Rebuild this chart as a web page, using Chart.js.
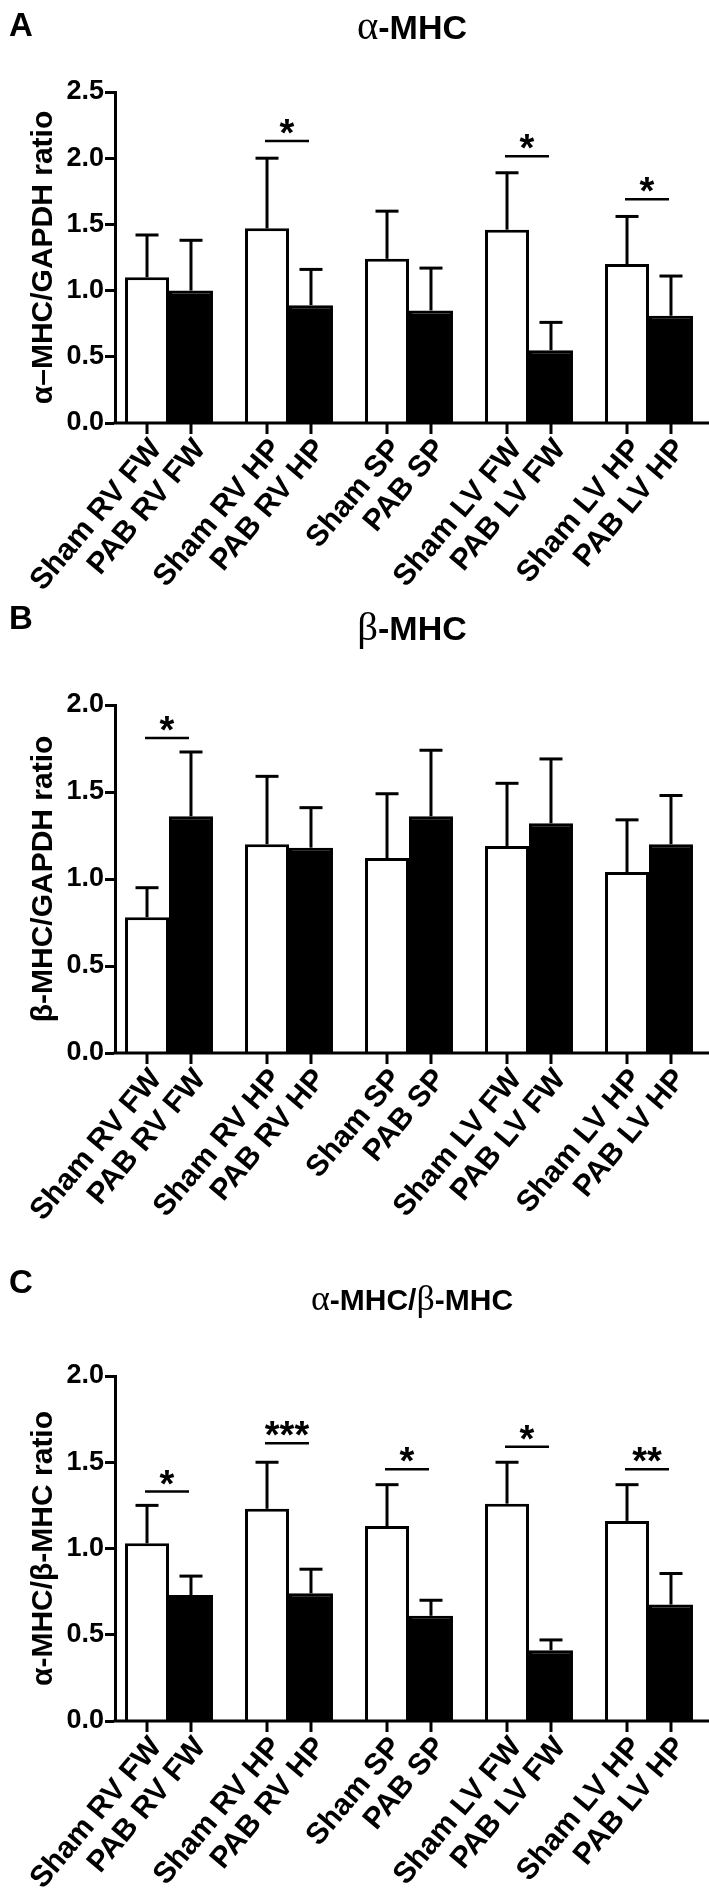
<!DOCTYPE html>
<html><head><meta charset="utf-8">
<script src="https://cdn.jsdelivr.net/npm/chart.js@4.4.1/dist/chart.umd.min.js"></script>
<style>
html,body{margin:0;padding:0;background:#fff;}
#page{position:relative;width:709px;height:1894px;overflow:hidden;font-family:"Liberation Sans",Arial,sans-serif;background:#fff;}
.panel{position:absolute;left:0;width:709px;}
.panel canvas{position:absolute;left:0;top:0;}
.letter{position:absolute;left:9px;font-weight:bold;font-size:33px;line-height:33px;color:#000;}
.title{position:absolute;left:115px;width:594px;text-align:center;font-weight:bold;font-size:34px;line-height:34px;color:#000;white-space:nowrap;}
.gk{font-family:"Liberation Serif","Times New Roman",serif;font-weight:normal;font-size:1.2em;line-height:0;}
</style></head><body>
<div id="page">
  <div class="panel" style="top:0;height:600px;">
    <canvas id="cA" width="709" height="600"></canvas>
    <div class="letter" style="top:8px">A</div>
    <div class="title" style="top:10px"><span class="gk">α</span>-MHC</div>
  </div>
  <div class="panel" style="top:600px;height:650px;">
    <canvas id="cB" width="709" height="650"></canvas>
    <div class="letter" style="top:1px">B</div>
    <div class="title" style="top:11px"><span class="gk">β</span>-MHC</div>
  </div>
  <div class="panel" style="top:1250px;height:644px;">
    <canvas id="cC" width="709" height="644"></canvas>
    <div class="letter" style="top:15px">C</div>
    <div class="title" style="top:35px;font-size:30px;line-height:30px;"><span class="gk">α</span>-MHC/<span class="gk">β</span>-MHC</div>
  </div>
</div>
<script>
// ---- categories ----
const groups = ["RV FW", "RV HP", "SP", "LV FW", "LV HP"];
const shamLabels = ["Sham RV FW", "Sham RV HP", "Sham SP", "Sham LV FW", "Sham LV HP"];
const pabLabels = ["PAB RV FW", "PAB RV HP", "PAB SP", "PAB LV FW", "PAB LV HP"];

// ---- tick labels ----
const yTicksA = [0.0, 0.5, 1.0, 1.5, 2.0, 2.5];
const yTicksB = [0.0, 0.5, 1.0, 1.5, 2.0];
const yTicksC = [0.0, 0.5, 1.0, 1.5, 2.0];

// ---- Panel A: alpha-MHC / GAPDH ----
const aShamMean = [1.10, 1.47, 1.24, 1.46, 1.20];
const aShamSd   = [0.32, 0.53, 0.36, 0.43, 0.36];
const aPabMean  = [1.00, 0.89, 0.85, 0.55, 0.81];
const aPabSd    = [0.38, 0.27, 0.32, 0.21, 0.30];
const aSigText  = ["", "*", "", "*", "*"];
const aSigLevel = [null, 2.13, null, 2.015, 1.69];

// ---- Panel B: beta-MHC / GAPDH ----
const bShamMean = [0.78, 1.20, 1.12, 1.19, 1.04];
const bShamSd   = [0.17, 0.39, 0.37, 0.36, 0.30];
const bPabMean  = [1.36, 1.18, 1.36, 1.32, 1.20];
const bPabSd    = [0.37, 0.23, 0.38, 0.37, 0.28];
const bSigText  = ["*", "", "", "", ""];
const bSigLevel = [1.81, null, null, null, null];

// ---- Panel C: alpha-MHC / beta-MHC ----
const cShamMean = [1.03, 1.23, 1.13, 1.26, 1.16];
const cShamSd   = [0.22, 0.27, 0.24, 0.24, 0.21];
const cPabMean  = [0.73, 0.74, 0.61, 0.41, 0.675];
const cPabSd    = [0.11, 0.14, 0.09, 0.06, 0.18];
const cSigText  = ["*", "***", "*", "*", "**"];
const cSigLevel = [1.33, 1.61, 1.46, 1.59, 1.46];

const FONT = '"Liberation Sans", Arial, sans-serif';
const LABEL_ANGLE = -50 * Math.PI / 180;
const LABEL_SIZE = 30;

function makeDecor(info) {
  return {
    id: 'decor',
    afterDatasetsDraw(chart) {
      const ctx = chart.ctx, ys = chart.scales.y, area = chart.chartArea;
      const metas = [chart.getDatasetMeta(0), chart.getDatasetMeta(1)];
      ctx.save();
      ctx.strokeStyle = '#000';
      ctx.fillStyle = '#000';
      ctx.lineCap = 'butt';
      // error bars (upper SD)
      metas.forEach((meta, di) => {
        const means = info.means[di], sds = info.sds[di];
        meta.data.forEach((el, j) => {
          const top = ys.getPixelForValue(means[j] + sds[j]);
          ctx.lineWidth = 3;
          ctx.beginPath();
          ctx.moveTo(el.x, el.y);
          ctx.lineTo(el.x, top);
          ctx.stroke();
          ctx.beginPath();
          ctx.moveTo(el.x - 11.5, top);
          ctx.lineTo(el.x + 11.5, top);
          ctx.stroke();
        });
      });
      // x axis line
      const y0 = ys.getPixelForValue(0);
      ctx.lineWidth = 3;
      ctx.beginPath();
      ctx.moveTo(area.left - 1.5, y0);
      ctx.lineTo(chart.width, y0);
      ctx.stroke();
      // ticks and rotated labels under each bar
      const half = LABEL_SIZE * 0.36;
      const ax = half * Math.sin(-LABEL_ANGLE), ay = half * Math.cos(-LABEL_ANGLE);
      metas.forEach((meta, di) => {
        const labels = info.labels[di];
        meta.data.forEach((el, j) => {
          ctx.lineWidth = 3;
          ctx.beginPath();
          ctx.moveTo(el.x, y0);
          ctx.lineTo(el.x, y0 + 11);
          ctx.stroke();
          ctx.save();
          ctx.translate(el.x + 1 + ax, y0 + 14 + ay);
          ctx.rotate(LABEL_ANGLE);
          ctx.textAlign = 'right';
          ctx.textBaseline = 'middle';
          ctx.font = 'bold ' + LABEL_SIZE + 'px ' + FONT;
          ctx.fillText(labels[j], 0, 0);
          ctx.restore();
        });
      });
      // significance brackets
      info.sigText.forEach((t, j) => {
        if (!t) return;
        const xs = metas[0].data[j].x, xp = metas[1].data[j].x;
        const ly = ys.getPixelForValue(info.sigLevel[j]);
        ctx.lineWidth = 2.5;
        ctx.beginPath();
        ctx.moveTo(xs - 2, ly);
        ctx.lineTo(xp - 2, ly);
        ctx.stroke();
        ctx.font = 'bold 38px ' + FONT;
        ctx.textAlign = 'center';
        ctx.textBaseline = 'alphabetic';
        ctx.fillText(t, (xs + xp) / 2 - 2, ly + 5);
      });
      ctx.restore();
    }
  };
}

function makeChart(id, cfg) {
  const ticks = cfg.yTicks;
  const toPts = arr => arr.map((v, i) => ({ x: i, y: v }));
  return new Chart(document.getElementById(id), {
    type: 'bar',
    data: {
      datasets: [
        { label: 'Sham', data: toPts(cfg.sham), backgroundColor: '#fff', borderColor: '#000', borderWidth: 3,
          categoryPercentage: 0.733, barPercentage: 1.0 },
        { label: 'PAB', data: toPts(cfg.pab), backgroundColor: '#000', borderColor: '#000', borderWidth: 3,
          categoryPercentage: 0.733, barPercentage: 1.0 }
      ]
    },
    options: {
      responsive: false,
      animation: false,
      devicePixelRatio: 1,
      layout: { padding: { left: 0, right: 0, top: cfg.padTop, bottom: cfg.padBottom } },
      plugins: { legend: { display: false }, tooltip: { enabled: false }, title: { display: false } },
      scales: {
        x: {
          type: 'linear', display: false, offset: false, min: -0.45, max: groups.length - 0.5,
          afterBuildTicks: s => { s.ticks = groups.map((g, i) => ({ value: i })); }
        },
        y: {
          min: ticks[0], max: ticks[ticks.length - 1],
          afterBuildTicks: s => { s.ticks = ticks.map(v => ({ value: v })); },
          ticks: { callback: v => v.toFixed(1), color: '#000', padding: 1,
                   font: { family: FONT, size: 27, weight: 'bold' } },
          grid: { drawOnChartArea: false, drawTicks: true, tickLength: 10, tickWidth: 3, tickColor: '#000' },
          border: { display: true, width: 3, color: '#000' },
          title: { display: true, text: cfg.yTitle, color: '#000', padding: { top: 26, bottom: 0 },
                   font: { family: FONT, size: 30, weight: 'bold' } },
          afterFit: s => { s.width = 115; }
        }
      }
    },
    plugins: [makeDecor({
      means: [cfg.sham, cfg.pab], sds: [cfg.shamSd, cfg.pabSd],
      labels: [shamLabels, pabLabels], sigText: cfg.sigText, sigLevel: cfg.sigLevel
    })]
  });
}

makeChart('cA', { yTicks: yTicksA, sham: aShamMean, shamSd: aShamSd, pab: aPabMean, pabSd: aPabSd,
  sigText: aSigText, sigLevel: aSigLevel, yTitle: 'α–MHC/GAPDH ratio', padTop: 92, padBottom: 177 });
makeChart('cB', { yTicks: yTicksB, sham: bShamMean, shamSd: bShamSd, pab: bPabMean, pabSd: bPabSd,
  sigText: bSigText, sigLevel: bSigLevel, yTitle: 'β-MHC/GAPDH ratio', padTop: 105, padBottom: 197 });
makeChart('cC', { yTicks: yTicksC, sham: cShamMean, shamSd: cShamSd, pab: cPabMean, pabSd: cPabSd,
  sigText: cSigText, sigLevel: cSigLevel, yTitle: 'α-MHC/β-MHC ratio', padTop: 126, padBottom: 173 });
</script>
</body></html>
